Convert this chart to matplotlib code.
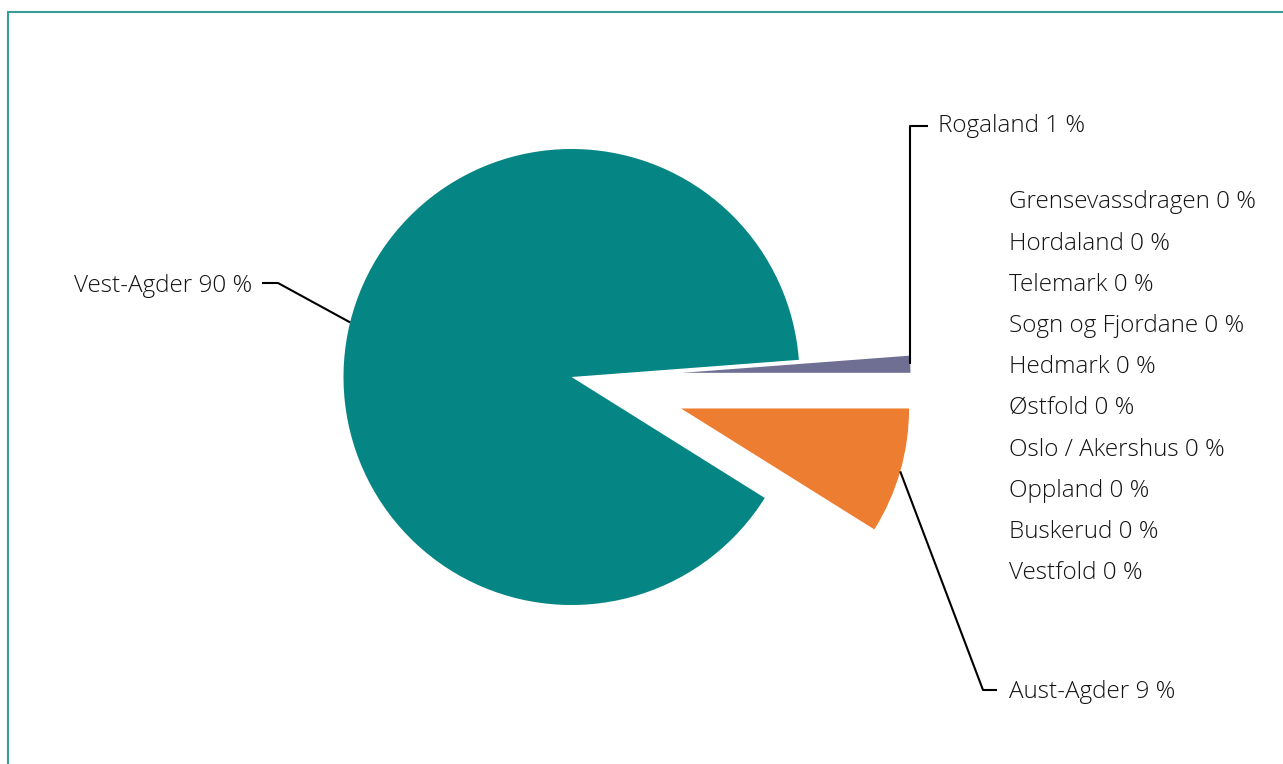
import numpy as np
import matplotlib
matplotlib.use("Agg")
import matplotlib.pyplot as plt
from matplotlib.patches import Rectangle

# ---- data ----
categories = ["Rogaland", "Vest-Agder", "Aust-Agder",
              "Grensevassdragen", "Hordaland", "Telemark", "Sogn og Fjordane",
              "Hedmark", "Østfold", "Oslo / Akershus", "Oppland", "Buskerud", "Vestfold"]
values = [1.2, 89.9, 8.9, 0, 0, 0, 0, 0, 0, 0, 0, 0, 0]
colors = ["#6f6e93", "#058583", "#ed7d31"]

W, H = 1283, 764
plt.rcParams['font.family'] = ['Open Sans', 'DejaVu Sans']
fig = plt.figure(figsize=(W / 100, H / 100), dpi=100)
ax = fig.add_axes([0, 0, 1, 1])

def py(y):
    return H - y

pie_vals = [v for v in values if v > 0]
pie_cats = [c for c, v in zip(categories, values) if v > 0]
center = (571.5, py(377))
R = 228
explode = [111, 0, 114]   # offsets in axis units (pixels)

wedges, _ = ax.pie(pie_vals, colors=colors, startangle=0, counterclock=True,
                   explode=explode, radius=R, center=center,
                   wedgeprops=dict(linewidth=0))
ax.set_xlim(0, W)
ax.set_ylim(0, H)
ax.set_aspect('equal')
ax.axis('off')

txt_kw = dict(fontsize=17.5, color="#141414", va='center', fontweight='light')
lw = 1.5
dy = 2.5

def anchor(w):
    mid = np.deg2rad((w.theta1 + w.theta2) / 2)
    cx, cy = w.center
    return cx + w.r * np.cos(mid), cy + w.r * np.sin(mid)

def pct(v):
    return f"{int(round(v))} %"

lab = dict(zip(pie_cats, wedges))
vdict = dict(zip(categories, values))

# Vest-Agder (left)
ax_, ay_ = anchor(lab["Vest-Agder"])
ax.plot([ax_, 278, 262], [ay_, py(283), py(283)], color='black', lw=lw, solid_capstyle='butt')
ax.text(252, py(284 + dy), f"Vest-Agder {pct(vdict['Vest-Agder'])}", ha='right', **txt_kw)

# Rogaland (top right)
rx, ry = anchor(lab["Rogaland"])
ax.plot([rx, rx, 928], [ry, py(126), py(126)], color='black', lw=lw, solid_capstyle='butt')
ax.text(938, py(124 + dy), f"Rogaland {pct(vdict['Rogaland'])}", ha='left', **txt_kw)

# Aust-Agder (bottom right)
ox, oy = anchor(lab["Aust-Agder"])
ax.plot([ox, 983, 997], [oy, py(690), py(690)], color='black', lw=lw, solid_capstyle='butt')
ax.text(1009, py(690 + dy), f"Aust-Agder {pct(vdict['Aust-Agder'])}", ha='left', **txt_kw)

# zero-value labels
zero_cats = [c for c, v in zip(categories, values) if v == 0]
for i, c in enumerate(zero_cats):
    ax.text(1009, py(200 + dy + i * 41.2), f"{c} {pct(vdict[c])}", ha='left', **txt_kw)

# frame (top and left visible)
fig.patches.append(Rectangle((7.5 / W, -0.1), 1.2, (H - 11.5) / H + 0.1,
                             transform=fig.transFigure, fill=False,
                             edgecolor="#3a9c97", linewidth=1.5))

fig.savefig("out.png", dpi=100)
